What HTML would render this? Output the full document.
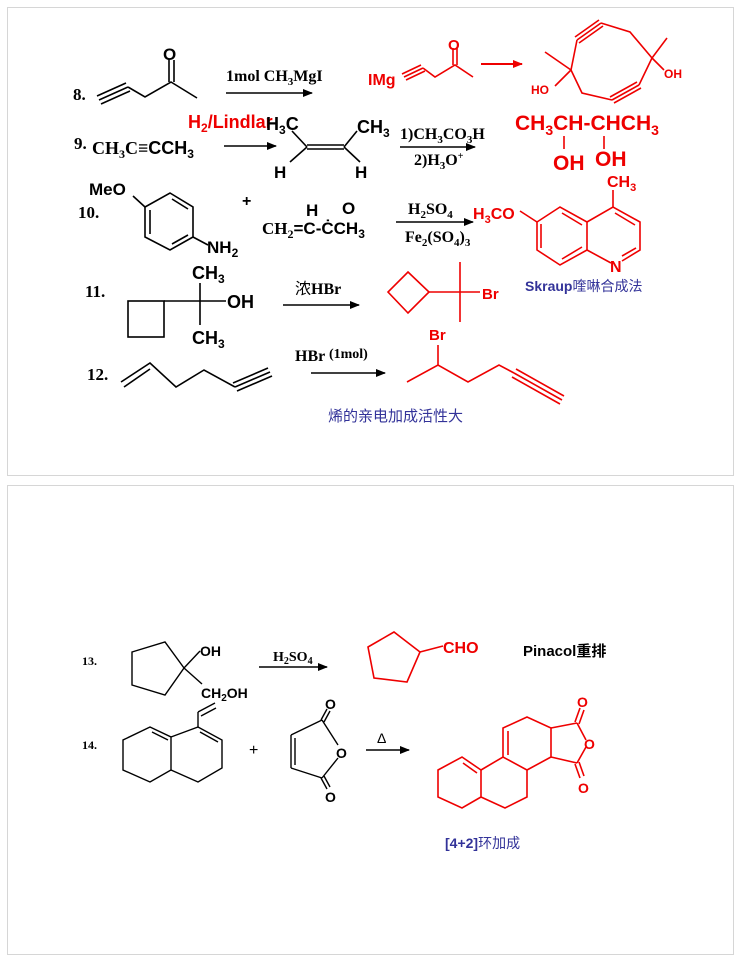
<!DOCTYPE html>
<html><head><meta charset="utf-8">
<style>
html,body{margin:0;padding:0;background:#fff;}
svg{display:block;}
.s{font-family:"Liberation Sans","Noto Sans CJK SC",sans-serif;font-weight:bold;}
.r{font-family:"Liberation Serif","Noto Serif CJK SC",serif;font-weight:bold;}
.cn{font-family:"Liberation Sans","Noto Sans CJK SC",sans-serif;}
</style></head>
<body>
<svg width="740" height="961" viewBox="0 0 740 961" xmlns="http://www.w3.org/2000/svg">
<rect x="7.5" y="7.5" width="726" height="468" fill="#fff" stroke="#d6d6d6"/>
<rect x="7.5" y="485.5" width="726" height="469" fill="#fff" stroke="#d6d6d6"/>
<defs>
<marker id="a" markerWidth="10" markerHeight="8" refX="9" refY="4" orient="auto" markerUnits="userSpaceOnUse"><path d="M0,0 L10,4 L0,8 z" fill="#000"/></marker>
<marker id="ar" markerWidth="10" markerHeight="8" refX="9" refY="4" orient="auto" markerUnits="userSpaceOnUse"><path d="M0,0 L10,4 L0,8 z" fill="#e00"/></marker>
</defs>

<!-- Row 8 -->
<text x="73" y="100" class="r" font-size="17">8.</text>
<g stroke="#000" stroke-width="1.6" fill="none">
<line x1="99" y1="100" x2="128" y2="87"/><line x1="97" y1="96" x2="126" y2="83"/><line x1="101" y1="104" x2="130" y2="91"/>
<polyline points="128,87 145,97 171,82 197,98"/>
<line x1="169" y1="82" x2="169" y2="60"/><line x1="174" y1="82" x2="174" y2="60"/>
</g>
<text x="163" y="60" class="s" font-size="17">O</text>
<line x1="226" y1="93" x2="312" y2="93" stroke="#000" stroke-width="1.6" marker-end="url(#a)"/>
<text x="226" y="81" class="r" font-size="16">1mol  CH<tspan font-size="11" dy="4">3</tspan><tspan dy="-4">MgI</tspan></text>

<g fill="#e00">
<text x="368" y="85" class="s" font-size="16">IMg</text>
<text x="448" y="50" class="s" font-size="15">O</text>
<text x="531" y="94" class="s" font-size="12">HO</text>
<text x="664" y="78" class="s" font-size="12">OH</text>
</g>
<g stroke="#e00" stroke-width="1.6" fill="none">
<line x1="404" y1="77" x2="423" y2="68"/><line x1="402" y1="74" x2="421" y2="65"/><line x1="406" y1="80" x2="425" y2="71"/>
<polyline points="423,68 435,77 455,65 473,77"/>
<line x1="453" y1="65" x2="453" y2="48"/><line x1="457" y1="65" x2="457" y2="48"/>
<line x1="571" y1="70" x2="545" y2="52"/><line x1="571" y1="70" x2="555" y2="86"/>
<line x1="571" y1="70" x2="577" y2="40"/>
<line x1="577" y1="40" x2="601" y2="23"/><line x1="575" y1="37" x2="599" y2="20"/><line x1="579" y1="43" x2="603" y2="26"/>
<polyline points="601,23 630,32 652,58 639,85"/>
<line x1="652" y1="58" x2="667" y2="38"/><line x1="652" y1="58" x2="664" y2="70"/>
<line x1="639" y1="85" x2="612" y2="100"/><line x1="637" y1="82" x2="610" y2="97"/><line x1="641" y1="88" x2="614" y2="103"/>
<polyline points="612,100 582,93 571,70"/>
</g>
<line x1="481" y1="64" x2="522" y2="64" stroke="#e00" stroke-width="2" marker-end="url(#ar)"/>

<!-- Row 9 -->
<text x="74" y="149" class="r" font-size="17">9.</text>
<text x="92" y="154" class="r" font-size="18">CH<tspan font-size="12" dy="4">3</tspan><tspan dy="-4">C≡</tspan><tspan class="s">CCH</tspan><tspan class="s" font-size="12" dy="4">3</tspan></text>
<line x1="224" y1="146" x2="276" y2="146" stroke="#000" stroke-width="1.6" marker-end="url(#a)"/>
<text x="188" y="128" class="s" font-size="18" fill="#e00">H<tspan font-size="12" dy="4">2</tspan><tspan dy="-4">/Lindlar</tspan></text>
<text x="266" y="130" class="s" font-size="18">H<tspan font-size="12" dy="4">3</tspan><tspan dy="-4">C</tspan></text>
<text x="357" y="133" class="s" font-size="18">CH<tspan font-size="12" dy="4">3</tspan></text>
<text x="274" y="178" class="s" font-size="17">H</text>
<text x="355" y="178" class="s" font-size="17">H</text>
<g stroke="#000" stroke-width="1.6" fill="none">
<line x1="307" y1="145" x2="344" y2="145"/><line x1="307" y1="149" x2="344" y2="149"/>
<line x1="307" y1="147" x2="292" y2="131"/><line x1="344" y1="147" x2="357" y2="131"/>
<line x1="307" y1="147" x2="290" y2="162"/><line x1="344" y1="147" x2="360" y2="162"/>
</g>
<line x1="400" y1="147" x2="475" y2="147" stroke="#000" stroke-width="1.6" marker-end="url(#a)"/>
<text x="400" y="139" class="r" font-size="16">1)CH<tspan font-size="11" dy="4">3</tspan><tspan dy="-4">CO</tspan><tspan font-size="11" dy="4">3</tspan><tspan dy="-4">H</tspan></text>
<text x="414" y="165" class="r" font-size="16">2)H<tspan font-size="11" dy="4">3</tspan><tspan dy="-4">O</tspan><tspan font-size="10" dy="-6">+</tspan></text>
<g fill="#e00" class="s">
<text x="515" y="130" font-size="21">CH<tspan font-size="14" dy="5">3</tspan><tspan dy="-5">CH-CHCH</tspan><tspan font-size="14" dy="5">3</tspan></text>
<text x="553" y="170" font-size="21">OH</text>
<text x="595" y="166" font-size="21">OH</text>
</g>
<line x1="564" y1="136" x2="564" y2="149" stroke="#e00" stroke-width="1.6"/>
<line x1="604" y1="136" x2="604" y2="149" stroke="#e00" stroke-width="1.6"/>

<!-- Row 10 -->
<text x="89" y="195" class="s" font-size="17">MeO</text>
<text x="78" y="218" class="r" font-size="17">10.</text>
<g stroke="#000" stroke-width="1.6" fill="none">
<polygon points="170,193 193,207 193,237 170,250 145,237 145,207"/>
<line x1="172" y1="199" x2="188" y2="209"/><line x1="188" y1="235" x2="172" y2="244"/><line x1="150" y1="210" x2="150" y2="234"/>
<line x1="133" y1="196" x2="145" y2="207"/><line x1="193" y1="237" x2="208" y2="245"/>
</g>
<text x="207" y="253" class="s" font-size="17">NH<tspan font-size="12" dy="4">2</tspan></text>
<text x="242" y="206" class="s" font-size="16">+</text>
<text x="262" y="234" class="r" font-size="17">CH<tspan font-size="12" dy="4">2</tspan><tspan dy="-4" class="s">=C-</tspan><tspan class="s">ĊCH</tspan><tspan font-size="12" dy="4" class="s">3</tspan></text>
<text x="306" y="216" class="s" font-size="17">H</text>
<text x="342" y="214" class="s" font-size="17">O</text>
<line x1="396" y1="222" x2="473" y2="222" stroke="#000" stroke-width="1.6" marker-end="url(#a)"/>
<text x="408" y="214" class="r" font-size="16">H<tspan font-size="11" dy="4">2</tspan><tspan dy="-4">SO</tspan><tspan font-size="11" dy="4">4</tspan></text>
<text x="405" y="242" class="r" font-size="16">Fe<tspan font-size="11" dy="4">2</tspan><tspan dy="-4">(SO</tspan><tspan font-size="11" dy="4">4</tspan><tspan dy="-4">)</tspan><tspan font-size="11" dy="4">3</tspan></text>
<text x="473" y="219" class="s" font-size="16" fill="#e00">H<tspan font-size="11" dy="4">3</tspan><tspan dy="-4">CO</tspan></text>
<text x="607" y="187" class="s" font-size="16" fill="#e00">CH<tspan font-size="11" dy="4">3</tspan></text>
<text x="610" y="272" class="s" font-size="16" fill="#e00">N</text>
<g stroke="#e00" stroke-width="1.6" fill="none">
<polygon points="537,222 560,207 587,222 587,250 560,265 537,250"/>
<polyline points="587,222 613,207 640,222 640,250 622,261"/>
<line x1="587" y1="250" x2="611" y2="263"/>
<line x1="520" y1="211" x2="537" y2="222"/><line x1="613" y1="207" x2="613" y2="190"/>
<line x1="562" y1="213" x2="582" y2="225"/><line x1="541" y1="224" x2="541" y2="248"/><line x1="562" y1="259" x2="582" y2="247"/>
<line x1="615" y1="213" x2="635" y2="225"/><line x1="622" y1="256" x2="636" y2="248"/>
</g>
<text x="525" y="291" class="s" font-size="14" fill="#333399">Skraup<tspan class="cn" font-weight="normal">喹啉合成法</tspan></text>

<!-- Row 11 -->
<text x="85" y="297" class="r" font-size="17">11.</text>
<text x="192" y="279" class="s" font-size="18">CH<tspan font-size="12" dy="4">3</tspan></text>
<text x="192" y="344" class="s" font-size="18">CH<tspan font-size="12" dy="4">3</tspan></text>
<text x="227" y="308" class="s" font-size="18">OH</text>
<g stroke="#000" stroke-width="1.6" fill="none">
<rect x="128" y="301" width="36" height="36"/>
<line x1="164" y1="301" x2="226" y2="301"/><line x1="200" y1="283" x2="200" y2="325"/>
</g>
<line x1="283" y1="305" x2="359" y2="305" stroke="#000" stroke-width="1.6" marker-end="url(#a)"/>
<text x="295" y="294" class="r" font-size="16"><tspan class="cn" font-weight="normal">浓</tspan>HBr</text>
<g stroke="#e00" stroke-width="1.6" fill="none">
<polygon points="408,272 429,292 408,313 388,292"/>
<line x1="429" y1="292" x2="480" y2="292"/><line x1="460" y1="262" x2="460" y2="322"/>
</g>
<text x="482" y="299" class="s" font-size="15" fill="#e00">Br</text>

<!-- Row 12 -->
<text x="87" y="380" class="r" font-size="17">12.</text>
<g stroke="#000" stroke-width="1.6" fill="none">
<polyline points="121,382 150,363 176,387 204,370 235,387"/>
<line x1="124" y1="387" x2="150" y2="369"/>
<line x1="235" y1="387" x2="270" y2="372"/><line x1="233" y1="383" x2="268" y2="368"/><line x1="237" y1="391" x2="272" y2="376"/>
</g>
<line x1="311" y1="373" x2="385" y2="373" stroke="#000" stroke-width="1.6" marker-end="url(#a)"/>
<text x="295" y="361" class="r" font-size="16">HBr <tspan font-size="14" dy="-3">(1mol)</tspan></text>
<g stroke="#e00" stroke-width="1.6" fill="none">
<polyline points="407,382 438,365 468,382 499,365 514,373"/>
<line x1="438" y1="365" x2="438" y2="345"/>
<line x1="514" y1="373" x2="562" y2="400"/><line x1="516" y1="369" x2="564" y2="396"/><line x1="512" y1="377" x2="560" y2="404"/>
</g>
<text x="429" y="340" class="s" font-size="15" fill="#e00">Br</text>
<text x="328" y="421" class="cn" font-size="15" fill="#333399">烯的亲电加成活性大</text>

<!-- Row 13 -->
<text x="82" y="665" class="r" font-size="12">13.</text>
<g stroke="#000" stroke-width="1.4" fill="none">
<polygon points="132,652 165,642 184,668 165,695 132,685"/>
<line x1="184" y1="668" x2="200" y2="651"/><line x1="184" y1="668" x2="202" y2="684"/>
</g>
<text x="200" y="656" class="s" font-size="14">OH</text>
<text x="201" y="698" class="s" font-size="14">CH<tspan font-size="10" dy="3">2</tspan><tspan dy="-3">OH</tspan></text>
<line x1="259" y1="667" x2="327" y2="667" stroke="#000" stroke-width="1.4" marker-end="url(#a)"/>
<text x="273" y="661" class="r" font-size="14">H<tspan font-size="10" dy="3">2</tspan><tspan dy="-3">SO</tspan><tspan font-size="10" dy="3">4</tspan></text>
<g stroke="#e00" stroke-width="1.6" fill="none">
<polygon points="368,647 394,632 420,652 407,682 374,678"/>
<line x1="420" y1="652" x2="443" y2="646"/>
</g>
<text x="443" y="653" class="s" font-size="16" fill="#e00">CHO</text>
<text x="523" y="656" class="s" font-size="15">Pinacol<tspan class="cn">重排</tspan></text>

<!-- Row 14 -->
<text x="82" y="749" class="r" font-size="12">14.</text>
<g stroke="#000" stroke-width="1.4" fill="none">
<polygon points="150,727 171,737 171,770 150,782 123,770 123,740"/>
<polyline points="171,737 198,727 222,740 222,768 198,782 171,770"/>
<line x1="152" y1="732" x2="168" y2="740"/><line x1="200" y1="732" x2="218" y2="742"/>
<line x1="198" y1="727" x2="198" y2="712"/><line x1="198" y1="712" x2="215" y2="703"/><line x1="201" y1="716" x2="216" y2="708"/>
<line x1="291" y1="735" x2="322" y2="720"/><line x1="291" y1="735" x2="291" y2="768"/><line x1="295" y1="738" x2="295" y2="765"/>
<line x1="291" y1="768" x2="322" y2="778"/><line x1="322" y1="720" x2="338" y2="745"/><line x1="322" y1="778" x2="338" y2="758"/>
<line x1="321" y1="720" x2="327" y2="709"/><line x1="324" y1="722" x2="330" y2="711"/>
<line x1="321" y1="778" x2="327" y2="789"/><line x1="324" y1="776" x2="330" y2="787"/>
</g>
<text x="249" y="755" class="cn" font-size="16">+</text>
<text x="325" y="709" class="s" font-size="14">O</text>
<text x="336" y="758" class="s" font-size="14">O</text>
<text x="325" y="802" class="s" font-size="14">O</text>
<line x1="366" y1="750" x2="409" y2="750" stroke="#000" stroke-width="1.6" marker-end="url(#a)"/>
<text x="377" y="743" class="cn" font-size="14">Δ</text>
<g stroke="#e00" stroke-width="1.6" fill="none">
<polygon points="438,770 462,757 481,770 481,797 462,808 438,797"/>
<line x1="463" y1="763" x2="477" y2="773"/>
<polyline points="481,770 503,757 527,770 527,797 505,808 481,797"/>
<polyline points="503,757 503,728 527,717 551,728 551,757 527,770"/>
<line x1="508" y1="731" x2="508" y2="755"/>
<line x1="551" y1="728" x2="577" y2="723"/><line x1="577" y1="723" x2="586" y2="740"/>
<line x1="551" y1="757" x2="577" y2="763"/><line x1="577" y1="763" x2="586" y2="747"/>
<line x1="575" y1="722" x2="580" y2="708"/><line x1="579" y1="724" x2="584" y2="710"/>
<line x1="575" y1="764" x2="580" y2="778"/><line x1="579" y1="762" x2="584" y2="776"/>
</g>
<g fill="#e00" class="s" font-size="14">
<text x="577" y="707" >O</text>
<text x="584" y="749">O</text>
<text x="578" y="793">O</text>
</g>
<text x="445" y="848" class="s" font-size="14" fill="#333399">[4+2]<tspan class="cn" font-weight="normal">环加成</tspan></text>
</svg>
</body></html>
